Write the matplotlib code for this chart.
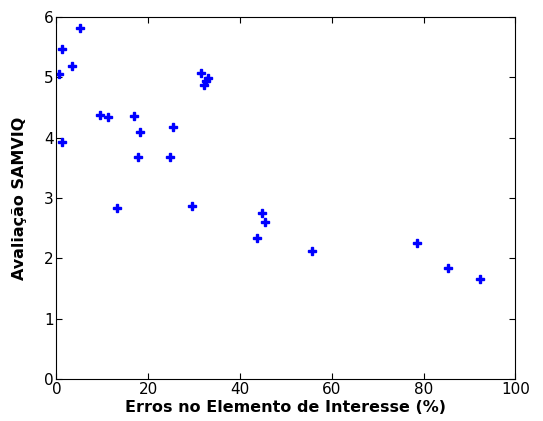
import matplotlib
matplotlib.use('Agg')
import matplotlib.pyplot as plt

# erro no elemento de interesse (%) x avaliacao SAMVIQ
erros = [5.2, 1.3, 3.4, 0.6, 1.3, 9.45, 11.3, 17.0, 18.2, 17.7, 25.3, 24.7,
         31.6, 33.0, 32.5, 32.2, 13.1, 29.5, 44.9, 45.5, 43.8, 55.6, 78.6,
         85.4, 92.2]
avaliacao = [5.82, 5.46, 5.19, 5.05, 3.93, 4.38, 4.35, 4.36, 4.10, 3.68, 4.17,
             3.68, 5.07, 4.98, 4.94, 4.88, 2.84, 2.87, 2.75, 2.61, 2.34, 2.12,
             2.26, 1.85, 1.66]

plt.rcParams['font.family'] = ['DejaVu Sans']

fig = plt.figure(figsize=(5.43, 4.21), dpi=100)
ax = fig.add_axes([0.104, 0.099, 0.845, 0.861])
ax.plot(erros, avaliacao, linestyle='none', marker='P', markersize=6,
        color='#0000ff', markeredgewidth=1.0, markeredgecolor='#0000ff')

ax.set_xlim(0, 100)
ax.set_ylim(0, 6)
ax.set_xticks([0, 20, 40, 60, 80, 100])
ax.set_yticks([0, 1, 2, 3, 4, 5, 6])
ax.tick_params(direction='in', top=True, right=True, length=4, labelsize=11,
               width=0.8, pad=2)
for s in ax.spines.values():
    s.set_linewidth(0.8)

ax.set_xlabel('Erros no Elemento de Interesse (%)', fontsize=11.5,
              fontweight='bold', labelpad=2)
ax.set_ylabel('Avaliação SAMVIQ', fontsize=11.5, fontweight='bold', labelpad=12)

fig.savefig('out.png', dpi=100)
